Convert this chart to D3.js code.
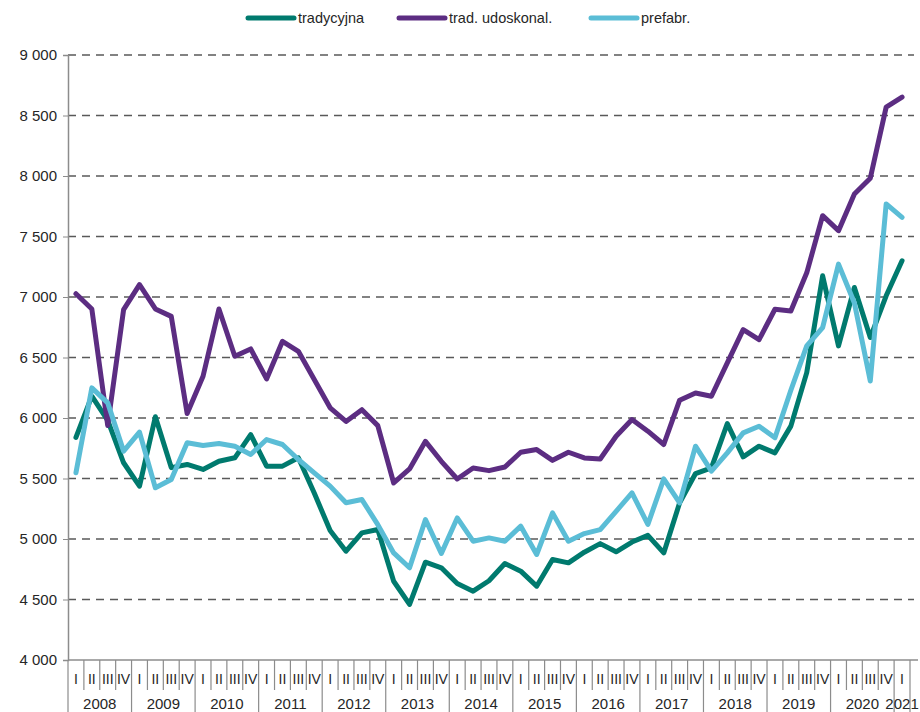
<!DOCTYPE html>
<html><head><meta charset="utf-8">
<script src="https://cdn.jsdelivr.net/npm/d3@7"></script>
<style>body{margin:0;background:#fff}svg{display:block}text{font-family:"Liberation Sans",Arial,sans-serif}</style>
</head><body><svg id="c" width="920" height="712"></svg>
<script>
const years = ["2008","2009","2010","2011","2012","2013","2014","2015","2016","2017","2018","2019","2020","2021"];
const quarterNames = ["I","II","III","IV"];
const seriesNames = ["tradycyjna","trad. udoskonal.","prefabr."];
const seriesColors = ["#007A6E","#5C2D82","#5BBDD6"];
const tradycyjna = [5840,6180,5980,5630,5437,6010,5590,5616,5575,5643,5671,5863,5602,5602,5671,5380,5070,4899,5051,5078,4651,4459,4808,4762,4632,4569,4655,4797,4734,4610,4830,4803,4891,4962,4894,4975,5030,4885,5299,5541,5588,5954,5679,5767,5712,5933,6375,7175,6596,7079,6665,7010,7299];
const udoskonal = [7027,6901,5938,6895,7102,6901,6840,6037,6345,6901,6510,6571,6323,6634,6551,6318,6084,5972,6069,5937,5463,5579,5807,5642,5496,5587,5565,5595,5717,5739,5650,5717,5670,5661,5849,5987,5891,5781,6147,6207,6180,6455,6730,6648,6899,6885,7200,7672,7548,7851,7981,8569,8652];
const prefabr = [5547,6249,6125,5726,5883,5423,5492,5795,5773,5789,5767,5698,5822,5781,5657,5547,5437,5300,5326,5119,4885,4762,5161,4880,5174,4982,5009,4982,5106,4872,5216,4982,5045,5078,5229,5382,5120,5497,5299,5767,5561,5712,5877,5932,5837,6230,6596,6747,7272,6950,6306,7769,7658];
const yTicks = [4000,4500,5000,5500,6000,6500,7000,7500,8000,8500,9000];

(function(){
const categories = [];
years.forEach(yr => quarterNames.forEach(q => { if (!(yr === "2021" && q !== "I")) categories.push({year:yr, q:q, key:yr+"-"+q}); }));

const svg = d3.select("#c");
const mLeft = 68, mRight = 910, gridRight = 914, mTop = 55, mBottom = 660;
const x = d3.scaleBand().domain(categories.map(d=>d.key)).range([mLeft, mRight]).paddingInner(0).paddingOuter(0);
const y = d3.scaleLinear().domain([4000, 9000]).range([mBottom, mTop]);
const fmt = v => d3.format(",")(v).replace(/,/g, " ");

svg.append("g").selectAll("line").data(yTicks.filter(t=>t>4000)).join("line")
  .attr("x1", mLeft).attr("x2", gridRight).attr("y1", d=>y(d)).attr("y2", d=>y(d))
  .attr("stroke", "#595959").attr("stroke-width", 1.6).attr("stroke-dasharray", "8,6");

const yAxis = d3.axisLeft(y).tickValues(yTicks).tickFormat(fmt).tickSize(5).tickPadding(6);
const gy = svg.append("g").attr("transform", `translate(${mLeft},0)`).call(yAxis);
gy.select(".domain").attr("stroke", "#8c8c8c").attr("stroke-width", 1.5);
gy.selectAll(".tick line").attr("stroke", "#8c8c8c");
gy.selectAll(".tick text").attr("font-size", 15).attr("fill", "#262626").style("font-family", '"Liberation Sans",Arial,sans-serif');

svg.append("line").attr("x1", mLeft).attr("x2", 918).attr("y1", mBottom).attr("y2", mBottom).attr("stroke", "#8c8c8c").attr("stroke-width", 1.5);

const xg = svg.append("g");
categories.forEach((c, i) => {
  const x0 = x(c.key);
  const isYearStart = c.q === "I";
  xg.append("line").attr("x1", x0).attr("x2", x0).attr("y1", mBottom).attr("y2", isYearStart ? 712 : 690)
    .attr("stroke", "#8c8c8c").attr("stroke-width", 1.2);
  xg.append("text").attr("x", x0 + x.bandwidth()/2).attr("y", 684).attr("text-anchor", "middle")
    .attr("font-size", 14).attr("fill", "#262626").text(c.q);
});
xg.append("line").attr("x1", mRight).attr("x2", mRight).attr("y1", mBottom).attr("y2", 712).attr("stroke", "#8c8c8c").attr("stroke-width", 1.2);
years.forEach(yr => {
  const cs = categories.filter(c => c.year === yr);
  const x0 = x(cs[0].key), x1 = x(cs[cs.length-1].key) + x.bandwidth();
  xg.append("text").attr("x", (x0+x1)/2).attr("y", 709).attr("text-anchor", "middle")
    .attr("font-size", 15).attr("fill", "#262626").text(yr);
});

const allSeries = [tradycyjna, udoskonal, prefabr];
const line = d3.line().x((d,i)=>x(categories[i].key)+x.bandwidth()/2).y(d=>y(d));
allSeries.forEach((s, k) => {
  svg.append("path").datum(s).attr("d", line).attr("fill", "none")
    .attr("stroke", seriesColors[k]).attr("stroke-width", 5).attr("stroke-linejoin", "round").attr("stroke-linecap", "round");
});

const legendX = [248, 399, 591];
const lg = svg.append("g");
seriesNames.forEach((n, k) => {
  lg.append("line").attr("x1", legendX[k]).attr("x2", legendX[k]+46).attr("y1", 18).attr("y2", 18)
    .attr("stroke", seriesColors[k]).attr("stroke-width", 5).attr("stroke-linecap", "round");
  lg.append("text").attr("x", legendX[k]+50).attr("y", 23).attr("font-size", 14.5).attr("fill", "#262626").text(n);
});
})();
</script></body></html>
